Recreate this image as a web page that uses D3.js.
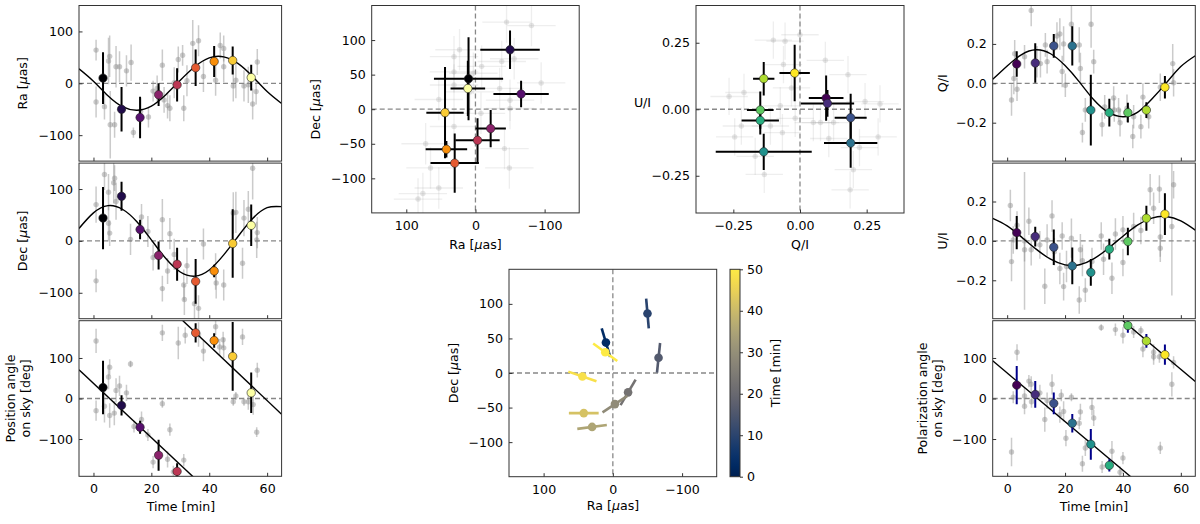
<!DOCTYPE html>
<html lang="en">
<head>
<meta charset="UTF-8">
<title>orbit</title>
<style>
  body{margin:0;background:#fff}
  svg{font-family:"DejaVu Sans",sans-serif;font-size:12.6px}
</style>
</head>
<body>
<script src="https://cdn.jsdelivr.net/npm/d3@7"></script>
<script>
// highlighted epochs (min)
const tC = [3.3, 9.7, 16.1, 22.5, 28.9, 35.3, 41.7, 48.1, 54.5]
const ra = [10, -50, -66, -22, -3, 30, 42, 44, 11]
const raErr = [50, 43, 40, 22, 32, 35, 30, 27, 25]
const dec = [44, 86, 22, -28, -45, -78, -58, -5, 30]
const decErr = [60, 28, 19, 27, 32, 43, 12, 66, 40]
const pa = [27, -17, -71, -140, -180, 162, 143, 104, 14]
const paErr = [66, 25, 16, 38, 20, 24, 18, 85, 50]
const q = [0.098, 0.103, 0.19, 0.19, -0.136, -0.149, -0.149, -0.136, -0.02]
const qErr = [0.065, 0.1, 0.06, 0.1, 0.18, 0.07, 0.05, 0.04, 0.057]
const u = [0.042, 0.022, -0.032, -0.127, -0.16, -0.042, -0.003, 0.115, 0.136]
const uErr = [0.085, 0.05, 0.09, 0.093, 0.068, 0.053, 0.07, 0.063, 0.106]
const polPa = [33, 10, -12, -61, -113, -165, 180, 142, 108]
const polPaErr = [47, 33, 27, 23, 38, 15, 18, 17, 25]

// background samples [t, value, err]
const raGray = [[0.9,64,20],[0.9,-36,30],[3.8,-45,25],[5.2,43,45],[5.6,52,40],[5.8,-80,65],[7.3,-80,25],[7.8,32,40],[9,32,30],[11.4,24,30],[13,40,35],[13.8,-95,10],[16.3,-54,25],[19,-65,20],[20.6,-15,20],[22,-10,25],[23.8,35,30],[24.4,-32,25],[25.6,-43,25],[26.4,-48,25],[27.9,1,30],[29.3,46,25],[30.8,54,20],[31.2,-48,25],[32.3,5,30],[34.3,77,45],[36.3,82,30],[38,13,30],[42.2,6,30],[43.8,73,25],[45,67,25],[45,32,30],[48.3,-5,30],[49.2,6,35],[52,-5,30],[53.5,-3,35],[55,-40,30],[56.2,-16,25],[56.6,41,25]]
const decGray = [[0.9,70,35],[0.9,-77,22],[3.8,128,30],[5.2,94,35],[5.2,34,35],[5.6,15,25],[7,112,40],[7.3,121,25],[7.8,76,35],[12.8,3,30],[16.6,46,25],[18.8,18,30],[20.6,-32,25],[23.8,41,40],[23.8,-92,25],[25.6,-58,25],[26.4,14,30],[27.9,-26,30],[31.2,-85,30],[31.4,-113,30],[32.3,-48,35],[34.9,-121,35],[36.3,-130,25],[38,-6,30],[42.2,-59,35],[42.4,-81,30],[45,-85,30],[48.3,54,40],[49.2,55,40],[51.5,-43,30],[52,44,35],[53.5,61,35],[55,140,60],[56.4,2,35],[56.6,16,30]]
const paGray = [[0.9,142,30],[0.9,-30,25],[3.8,-19,40],[5.2,53,30],[5.6,77,20],[5.6,-42,30],[7.2,-36,30],[7.8,20,30],[9,31,25],[11.4,14,20],[12.8,85,8],[14,-69,15],[16.6,-52,20],[18.8,-90,15],[20.6,-157,15],[23.8,162,20],[23.8,-13,10],[25.6,-150,20],[26.4,-77,15],[29.3,137,40],[31.2,-152,15],[31.7,156,20],[36.3,158,30],[38,117,25],[42.2,177,20],[43.6,127,20],[44.8,145,20],[45,125,25],[48.3,-8,10],[49.2,6,10],[51.5,152,20],[52,-8,10],[53.5,-8,20],[55.2,-15,25],[56.4,-83,12],[56.6,70,18],[27.6,-181,15]]
const qGray = [[1.5,-0.085,0.08],[2.3,0.025,0.08],[3.4,-0.03,0.06],[2.6,0.15,0.07],[6,0.135,0.06],[8.3,0.37,0.08],[10.3,0.11,0.08],[11.5,0.1,0.07],[13.2,0.195,0.06],[13.8,0.11,0.06],[17.2,0.24,0.07],[18.2,0.25,0.08],[19,0.06,0.08],[19.5,0.2,0.09],[20.1,-0.01,0.06],[22.2,0.3,0.1],[24.9,0.195,0.09],[25.3,0.075,0.08],[26,-0.25,0.05],[27,-0.135,0.06],[29,0.3,0.12],[29.9,0.11,0.06],[32.8,-0.21,0.06],[33.7,-0.12,0.06],[36.8,-0.075,0.06],[37,-0.135,0.06],[38.5,-0.135,0.06],[39,-0.2,0.07],[41.4,-0.127,0.07],[43.4,-0.27,0.06],[43.7,-0.17,0.06],[46.2,-0.22,0.06],[46.9,-0.07,0.07],[48.9,-0.17,0.06],[52.9,-0.02,0.07],[57.2,0.1,0.1],[57.5,0.003,0.07]]
const uGray = [[1.1,0.18,0.08],[1.5,-0.105,0.1],[2.1,0.005,0.07],[3.4,0.08,0.07],[6,-0.045,0.06],[6,0.0,0.35],[7.5,0.1,0.07],[8.3,-0.045,0.08],[11.3,-0.02,0.07],[13,-0.23,0.09],[13.8,0.005,0.08],[15.5,0.127,0.08],[16.3,-0.055,0.07],[18.2,-0.14,0.08],[19,0.025,0.07],[19.5,-0.232,0.07],[20.5,-0.13,0.08],[22.2,0.014,0.1],[24.9,-0.3,0.07],[25.3,-0.045,0.08],[26,-0.1,0.08],[27,-0.25,0.06],[29.3,-0.105,0.07],[32.5,0.025,0.07],[33.3,-0.093,0.08],[36.2,-0.19,0.08],[37.4,0.035,0.08],[40,0.056,0.07],[40,-0.11,0.07],[43.7,0.073,0.07],[46.2,0.053,0.07],[49.4,0.26,0.08],[50.6,0.166,0.08],[52.6,0.263,0.07],[52.9,-0.037,0.07],[52.9,0.02,0.1],[56.9,0.073,0.35],[57.5,0.285,0.07]]
const polPaGray = [[1.5,-132,35],[3.4,114,20],[2.1,3,15],[6,-19,20],[6,6,20],[7.5,43,15],[8.3,35,20],[8.4,-8,15],[11.3,14,20],[13,-52,30],[13.8,-5,20],[15.5,35,25],[18.2,-40,20],[18.7,8,15],[19.5,-32,25],[20.3,-98,20],[22.2,3,10],[24.9,-61,15],[25.3,-33,20],[26,-161,20],[27,-122,20],[29.3,-22,20],[29.9,-48,20],[32.5,175,8],[32.8,-169,15],[36.2,-130,25],[37.4,170,15],[40,-147,15],[40,156,20],[39,-182,15],[43.7,164,15],[46.2,168,10],[46.9,122,20],[50.6,114,20],[50.6,103,20],[52.6,103,15],[52.9,-122,15],[56.9,35,30],[57.5,89,15]]
// background pairs for the scatter panels [x, y]
const raDecGray = [[-45,126],[-81,121],[-38,69],[-56,73],[-95,38],[-9,62],[3,52],[31,76],[23,86],[31,54],[31,35],[53,14],[-50,1],[-50,13],[-8,-6],[31,-25],[-42,-57],[-49,-85],[72,-50],[65,-85],[76,-122],[83,-130],[53,-114],[-35,30],[8,25]]
const quGray = [[-0.1,0.26],[-0.056,0.256],[0,0.28],[-0.062,0.168],[0.095,0.184],[0.18,0.13],[-0.032,0.08],[-0.21,0.063],[-0.266,0.048],[-0.074,0.013],[-0.018,-0.034],[0.05,-0.05],[0.077,-0.05],[0.126,-0.05],[0.244,0.029],[0.3,0.02],[-0.22,-0.063],[-0.245,-0.104],[-0.066,-0.088],[-0.168,-0.177],[-0.134,-0.245],[0.108,-0.11],[0.223,-0.144],[0.293,-0.104],[0.2,-0.227],[0.188,-0.303],[-0.111,-0.063]]

// fitted model curves
const fitT = [-5, 0, 5, 10, 15, 20, 25, 30, 35, 40, 45, 50, 55, 60, 65]
const raFit = [28, 4, -24, -45, -52, -44, -22, 6, 32, 49, 51, 38, 13, -16, -39]
const decFit = [24, 54, 68, 61, 37, 2, -34, -60, -68, -56, -27, 9, 43, 64, 66]
const qFit = [0.02, 0.088, 0.146, 0.17, 0.15, 0.09, 0.006, -0.085, -0.148, -0.17, -0.148, -0.08, 0.002, 0.085, 0.14]
const uFit = [0.114, 0.076, 0.019, -0.042, -0.093, -0.122, -0.121, -0.09, -0.037, 0.024, 0.08, 0.116, 0.124, 0.102, 0.055]
const paFit = [[[-5, 71], [35, -197]], [[30, 198], [65, -39]]]
const polPaFit = [[[-5, 93], [45, -207]], [[39, 198], [65, 42]]]

const timeTicks = [0, 20, 40, 60]
const cbTicks = [0, 10, 20, 30, 40, 50]

const W = 1200, H = 524
const svg = d3.select("body").append("svg").attr("width", W).attr("height", H)
const defs = svg.append("defs")
let clipN = 0

const GRAY = "rgba(140,140,140,0.45)"
const FAINT = "rgba(170,170,170,0.2)"

function panel(x0, y0, w, h, xDom, yDom) {
  const id = "clip" + (clipN++)
  defs.append("clipPath").attr("id", id).append("rect").attr("width", w).attr("height", h)
  const g = svg.append("g").attr("transform", `translate(${x0},${y0})`)
  const x = d3.scaleLinear().domain(xDom).range([0, w])
  const y = d3.scaleLinear().domain(yDom).range([h, 0])
  const body = g.append("g").attr("clip-path", `url(#${id})`)
  return {g, body, x, y, w, h}
}

function clean(sel) {
  sel.attr("font-size", null).attr("font-family", null)
  sel.select(".domain").remove()
  sel.selectAll(".tick line").attr("stroke", "#333")
  sel.selectAll(".tick text").attr("fill", "#000")
}

function axes(p, xt, yt, xf, yf) {
  p.g.append("g").attr("transform", `translate(0,${p.h})`)
    .call(d3.axisBottom(p.x).tickValues(xt).tickFormat(xf || (() => "")).tickSizeInner(-3.5).tickSizeOuter(0).tickPadding(8))
    .call(clean)
  p.g.append("g")
    .call(d3.axisLeft(p.y).tickValues(yt).tickFormat(yf).tickSizeInner(-3.5).tickSizeOuter(0).tickPadding(6))
    .call(clean)
  p.g.append("rect").attr("width", p.w).attr("height", p.h)
    .attr("fill", "none").attr("stroke", "#333").attr("stroke-width", 1)
}

function zeroLines(p, horiz, vert) {
  if (horiz) p.body.append("line").attr("x1", 0).attr("x2", p.w)
    .attr("y1", p.y(0)).attr("y2", p.y(0))
    .attr("stroke", "#888").attr("stroke-width", 1.3).attr("stroke-dasharray", "5,3")
  if (vert) p.body.append("line").attr("y1", 0).attr("y2", p.h)
    .attr("x1", p.x(0)).attr("x2", p.x(0))
    .attr("stroke", "#888").attr("stroke-width", 1.3).attr("stroke-dasharray", "5,3")
}

// generic error bars: items {x, y, xe, ye}
function errBars(p, items, color, width) {
  const g = p.body.append("g").attr("stroke", color).attr("stroke-width", width)
  items.forEach(d => {
    if (d.ye) g.append("line").attr("x1", p.x(d.x)).attr("x2", p.x(d.x))
      .attr("y1", p.y(d.y - d.ye)).attr("y2", p.y(d.y + d.ye))
    if (d.xe) g.append("line").attr("y1", p.y(d.y)).attr("y2", p.y(d.y))
      .attr("x1", p.x(d.x - d.xe)).attr("x2", p.x(d.x + d.xe))
  })
}

function dots(p, items, r, fill, stroke) {
  p.body.append("g").selectAll("circle").data(items).join("circle")
    .attr("cx", d => p.x(d.x)).attr("cy", d => p.y(d.y)).attr("r", r)
    .attr("fill", (d, i) => typeof fill === "function" ? fill(d, i) : fill)
    .attr("stroke", stroke || "none").attr("stroke-width", 0.6)
}

function curve(p, xs, ys) {
  p.body.append("path").datum(xs.map((t, i) => [t, ys[i]]))
    .attr("fill", "none").attr("stroke", "#000").attr("stroke-width", 1.4)
    .attr("d", d3.line().x(d => p.x(d[0])).y(d => p.y(d[1])).curve(d3.curveNatural))
}

function segs(p, lines) {
  lines.forEach(l => p.body.append("path").datum(l)
    .attr("fill", "none").attr("stroke", "#000").attr("stroke-width", 1.4)
    .attr("d", d3.line().x(d => p.x(d[0])).y(d => p.y(d[1]))))
}

function timePanel(x0, y0, yDom, gray, fitX, fitY, vals, errs, colorFn, barColor, yt, yf, showX) {
  const p = panel(x0, y0, 202.6, 155.6, [-5, 65], yDom)
  errBars(p, gray.map(d => ({x: d[0], y: d[1], ye: d[2]})), GRAY, 1.5)
  dots(p, gray.map(d => ({x: d[0], y: d[1]})), 2.7, GRAY)
  zeroLines(p, true, false)
  if (fitY) curve(p, fitX, fitY); else segs(p, fitX)
  const items = tC.map((t, i) => ({x: t, y: vals[i], ye: errs[i]}))
  errBars(p, items, barColor, 2)
  dots(p, items, 4.2, (d, i) => colorFn(i / 8), "#222")
  axes(p, timeTicks, yt, showX ? d3.format("d") : null, yf)
  return p
}

const rowTop = [5.5, 163.1, 320.7]
const intF = d3.format("d")
const f1 = d3.format(".1f")
const f2 = d3.format(".2f")

// left column
timePanel(79, rowTop[0], [-150, 150], raGray, fitT, raFit, ra, raErr, d3.interpolateInferno, "#000", [-100, 0, 100], intF, false)
timePanel(79, rowTop[1], [-150, 150], decGray, fitT, decFit, dec, decErr, d3.interpolateInferno, "#000", [-100, 0, 100], intF, false)
timePanel(79, rowTop[2], [-192, 192], paGray, paFit, null, pa, paErr, d3.interpolateInferno, "#000", [-100, 0, 100], intF, true)

// right column
timePanel(992.7, rowTop[0], [-0.395, 0.395], qGray, fitT, qFit, q, qErr, d3.interpolateViridis, "#000", [-0.2, 0, 0.2], f1, false)
timePanel(992.7, rowTop[1], [-0.395, 0.395], uGray, fitT, uFit, u, uErr, d3.interpolateViridis, "#000", [-0.2, 0, 0.2], f1, false)
timePanel(992.7, rowTop[2], [-192, 192], polPaGray, polPaFit, null, polPa, polPaErr, d3.interpolateViridis, "darkblue", [-100, 0, 100], intF, true)

// centre top: Ra / Dec
{
  const p = panel(371.7, 5.5, 207.5, 207.4, [150, -150], [-150, 150])
  errBars(p, raDecGray.map(d => ({x: d[0], y: d[1], xe: 35, ye: 30})), FAINT, 1.3)
  dots(p, raDecGray.map(d => ({x: d[0], y: d[1]})), 2.7, "rgba(170,170,170,0.3)")
  zeroLines(p, true, true)
  const items = tC.map((t, i) => ({x: ra[i], y: dec[i], xe: raErr[i], ye: decErr[i]}))
  errBars(p, items, "#000", 2)
  dots(p, items, 4.2, (d, i) => d3.interpolateInferno(i / 8), "#222")
  axes(p, [100, 0, -100], [-100, -50, 0, 50, 100], intF, intF)
}

// Q/I vs U/I
{
  const p = panel(696, 5.5, 208, 207.5, [-0.39, 0.39], [-0.39, 0.39])
  errBars(p, quGray.map(d => ({x: d[0], y: d[1], xe: 0.07, ye: 0.07})), FAINT, 1.3)
  dots(p, quGray.map(d => ({x: d[0], y: d[1]})), 2.7, "rgba(170,170,170,0.3)")
  zeroLines(p, true, true)
  const items = tC.map((t, i) => ({x: q[i], y: u[i], xe: qErr[i], ye: uErr[i]}))
  errBars(p, items, "#000", 2)
  dots(p, items, 4.2, (d, i) => d3.interpolateViridis(i / 8), "#222")
  axes(p, [-0.25, 0, 0.25], [-0.25, 0, 0.25], f2, f2)
}

// centre bottom: positions with polarisation direction, coloured by time
{
  const p = panel(509, 269.3, 207.7, 207.4, [150, -150], [-150, 150])
  zeroLines(p, true, true)
  const cmap = t => d3.interpolateCividis(Math.min(t, 50) / 50)
  const half = 21.5
  tC.forEach((t, i) => {
    const chi = polPa[i] / 2 * Math.PI / 180
    const dx = Math.sin(chi) * half, dy = Math.cos(chi) * half
    p.body.append("line")
      .attr("x1", p.x(ra[i] - dx)).attr("y1", p.y(dec[i] - dy))
      .attr("x2", p.x(ra[i] + dx)).attr("y2", p.y(dec[i] + dy))
      .attr("stroke", cmap(t)).attr("stroke-width", 2.6)
    p.body.append("circle").attr("cx", p.x(ra[i])).attr("cy", p.y(dec[i]))
      .attr("r", 4.3).attr("fill", cmap(t))
  })
  axes(p, [100, 0, -100], [-100, -50, 0, 50, 100], intF, intF)

  // colour bar
  const grad = defs.append("linearGradient").attr("id", "cb")
    .attr("x1", 0).attr("y1", 1).attr("x2", 0).attr("y2", 0)
  d3.range(0, 1.0001, 0.05).forEach(s => grad.append("stop")
    .attr("offset", s).attr("stop-color", d3.interpolateCividis(s)))
  const cy = d3.scaleLinear().domain([0, 50]).range([476.7, 269.3])
  const cb = svg.append("g").attr("transform", "translate(730,0)")
  cb.append("rect").attr("y", 269.3).attr("width", 10).attr("height", 207.4).attr("fill", "url(#cb)")
  cb.append("g").attr("transform", "translate(10,0)")
    .call(d3.axisRight(cy).tickValues(cbTicks).tickSizeInner(3).tickSizeOuter(0).tickPadding(4))
    .call(clean)
  cb.append("rect").attr("y", 269.3).attr("width", 10).attr("height", 207.4)
    .attr("fill", "none").attr("stroke", "#333")
}

// axis labels
function label(x, y, txt, rot, italicMu) {
  const t = svg.append("text").attr("text-anchor", "middle")
    .attr("transform", `translate(${x},${y})` + (rot ? " rotate(-90)" : ""))
    .attr("dy", rot ? "0.35em" : null)
  if (italicMu) {
    t.append("tspan").text(txt + " [")
    t.append("tspan").attr("font-style", "italic").text("\u03bc")
    t.append("tspan").text("as]")
  } else t.text(txt)
}
label(23, 83.3, "Ra", true, true)
label(23, 240.9, "Dec", true, true)
label(11, 398.5, "Position angle", true)
label(26, 398.5, "on sky  [deg]", true)
label(181, 511, "Time [min]")
label(315.5, 109.3, "Dec", true, true)
label(475.5, 249, "Ra", false, true)
label(642.5, 107, "U/I")
label(800, 249, "Q/I")
label(453.5, 373, "Dec", true, true)
label(613, 510, "Ra", false, true)
label(776, 373, "Time [min]", true)
label(942.5, 83.3, "Q/I", true)
label(942.5, 240.9, "U/I", true)
label(923, 398.5, "Polarization angle", true)
label(938, 398.5, "on sky [deg]", true)
label(1094, 511, "Time [min]")
</script>
</body>
</html>
